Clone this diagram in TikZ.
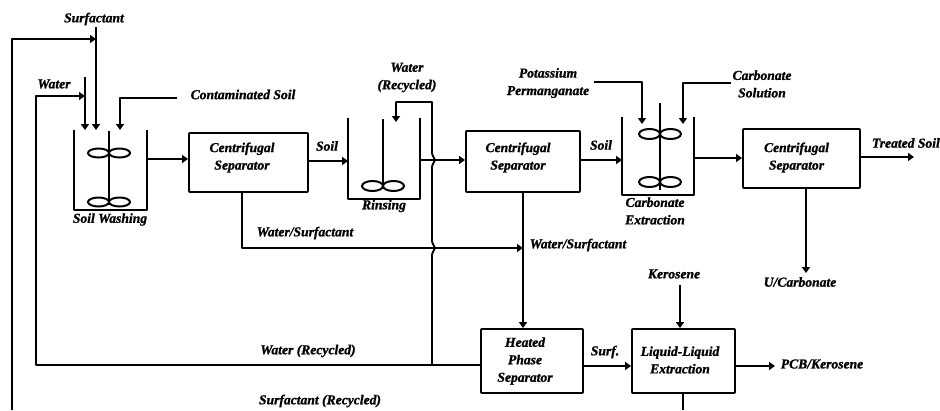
\documentclass[tikz,border=0pt]{standalone}
\usepackage{fontspec}
\setmainfont[BoldItalicFeatures={FakeBold=1.2}]{Liberation Serif}
\usetikzlibrary{arrows.meta}
\tikzset{
  x=1pt,y=-1pt,
  every path/.style={line width=1.9pt,line join=round},
  lab/.style={inner sep=0pt,font=\fontsize{13.6}{14}\selectfont\bfseries\itshape,align=center},
  pbox/.style={draw,rounded corners=0.8pt,inner sep=0pt,lab},
  tank/.style={inner sep=0pt,minimum width=0pt},
  flow/.style={-{Triangle[length=6pt,width=8pt]}},
  lobe/.style={line width=2pt}
}
\newcommand{\mixer}[3]{%
  \draw[lobe] (#1-10.5,#2) ellipse [x radius=10.5,y radius=#3];
  \draw[lobe] (#1+10.5,#2) ellipse [x radius=10.5,y radius=#3];}
\begin{document}
\begin{tikzpicture}
\useasboundingbox (0,0) rectangle (940,410);
% process boxes
\node[pbox,minimum width=119pt,minimum height=59pt] (b1) at (248.5,162.5) {};
\node[pbox,minimum width=114pt,minimum height=61pt] (b2) at (523,161.5) {};
\node[pbox,minimum width=117pt,minimum height=59pt] (b3) at (801.5,158.5) {};
\node[pbox,minimum width=102pt,minimum height=64pt] (b4) at (532,361) {};
\node[pbox,minimum width=103pt,minimum height=64pt] (b5) at (683.5,361) {};
% tanks
\node[tank,minimum width=71pt,minimum height=78pt] (t1) at (110.5,170) {};
\node[tank,minimum width=70pt,minimum height=79pt] (t2) at (384,158.5) {};
\node[tank,minimum width=70pt,minimum height=76pt] (t3) at (658,156) {};
\draw (t1.north west) -- (t1.south west) -- (t1.south east) -- (t1.north east);
\draw (t2.north west) -- (t2.south west) -- (t2.south east) -- (t2.north east);
\draw (t3.north west) -- (t3.south west) -- (t3.south east) -- (t3.north east);
% shafts and impellers
\draw (109,131) -- (109,205);
\mixer{109}{153}{4.5}
\mixer{109}{202}{4.5}
\draw (383,119) -- (383,186);
\mixer{383}{186}{5}
\draw (660,103) -- (660,190);
\mixer{660}{134}{5}
\mixer{660}{182}{5}
% labels
\node[lab] (lsurf) at (94,19) {Surfactant};
\node[lab] (lwat) at (54,84) {Water};
\node[lab] (lcont) at (243,94.5) {Contaminated Soil};
\node[lab] (lsw) at (110,219.5) {Soil Washing};
\node[lab] at (b1.center) [xshift=-6.5pt,yshift=5pt] (t1a) {Centrifugal\\[3.5pt]Separator};
\node[lab] (ls1) at (327,146) {Soil};
\node[lab] (lwr) at (407,77.5) {Water\\[3.5pt](Recycled)};
\node[lab] (lrin) at (384,206) {Rinsing};
\node[lab] at (b2.center) [xshift=-5pt,yshift=4pt] (t2a) {Centrifugal\\[3.5pt]Separator};
\node[lab] (ls2) at (601,145) {Soil};
\node[lab] (lpot) at (548,83) {Potassium\\[3.5pt]Permanganate};
\node[lab] (lcar) at (762,84) {Carbonate\\[3.5pt]Solution};
\node[lab] (lext) at (655,211) {Carbonate\\[3.5pt]Extraction};
\node[lab] at (b3.center) [xshift=-5pt,yshift=1pt] (t3a) {Centrifugal\\[3.5pt]Separator};
\node[lab,anchor=west] (ltre) at (871,143) {Treated Soil};
\node[lab] (lws1) at (305,233) {Water/Surfactant};
\node[lab] (lws2) at (578,245) {Water/Surfactant};
\node[lab] (lker) at (674,274) {Kerosene};
\node[lab] (lu) at (800,282) {U/Carbonate};
\node[lab] (lwr2) at (308,351) {Water (Recycled)};
\node[lab] at (b4.center) [xshift=-7pt] (t4a) {Heated\\[3.5pt]Phase\\[3.5pt]Separator};
\node[lab] (lsu) at (605,352) {Surf.};
\node[lab] at (b5.center) [yshift=1pt,xshift=-3.5pt] (t5a) {Liquid-Liquid\\[3.5pt]Extraction};
\node[lab] (lpcb) at (822,364) {PCB/Kerosene};
\node[lab] (lsr) at (320,401) {Surfactant (Recycled)};
% free ends
\coordinate (s0) at (96,27);
\coordinate (w0) at (85,77);
\coordinate (c0) at (177,98);
\coordinate (p0) at (594,82);
\coordinate (k0) at (731,83);
\coordinate (ke) at (680,285);
\coordinate (to) at (914,157);
\coordinate (po) at (775,366);
\coordinate (ue) at (806,273);
\coordinate (bl) at (12,410);
\coordinate (be) at (683,410);
% feeds
\draw[flow] (bl) -- (12,39) -- (s0 |- 0,39);
\draw[flow] (s0) -- (s0 |- t1.north);
\draw[flow] (w0) -- (w0 |- t1.north);
\draw[flow] (b4.west |- 0,365) -- (36,365) -- (36,96) -- (w0 |- 0,96);
\draw[flow] (c0) -- (120,98) -- (120,130);
% main line
\draw[flow] (t1.east |- 0,159) -- (b1.west |- 0,159);
\draw[flow] (b1.east |- 0,161) -- (t2.west |- 0,161);
\draw[flow] (t2.east |- 0,160) -- (b2.west |- 0,160);
\draw[flow] (b2.east |- 0,160) -- (t3.west |- 0,160);
\draw[flow] (t3.east |- 0,158) -- (b3.west |- 0,158);
\draw[flow] (b3.east |- 0,157) -- (to);
% recycled water with hops
\draw[flow] (432,365) -- (432,255) -- (432.5,253) -- (435,248) -- (432.5,243) -- (432,241)
  -- (432,167) -- (432.5,165) -- (435,160) -- (432.5,155) -- (432,153) -- (432,102) -- (396,102) -- (396,122);
% reagents
\draw[flow] (p0) -- (642,82) -- (642,124);
\draw[flow] (k0) -- (683,83) -- (683,124);
% water/surfactant
\draw[flow] (b1.south -| 242,0) -- (242,248) -- (b2.south |- 0,248);
\draw[flow] (b2.south) -- (b4.north -| b2.south);
\draw[flow] (b3.south -| 806,0) -- (ue);
% lower
\draw[flow] (ke) -- (b5.north -| ke);
\draw[flow] (b4.east |- 0,366) -- (b5.west |- 0,366);
\draw[flow] (b5.east |- 0,366) -- (po);
\draw (b5.south -| be) -- (be);
\end{tikzpicture}
\end{document}
